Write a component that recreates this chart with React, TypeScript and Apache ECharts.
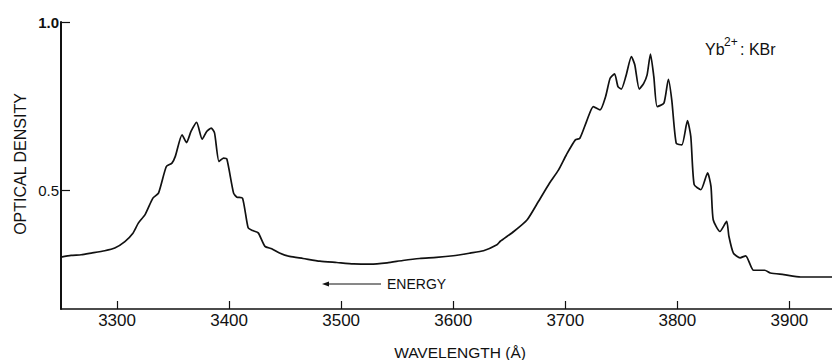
import React, { useEffect, useRef } from "react";
import * as echarts from "echarts";

const wavelengths = [3250, 3259, 3268, 3277, 3289, 3298, 3307, 3314, 3319, 3325, 3332, 3337, 3344, 3349, 3352, 3358, 3362, 3366, 3371, 3376, 3380, 3384, 3387, 3391, 3395, 3398, 3404, 3407, 3412, 3417, 3421, 3426, 3432, 3438, 3445, 3454, 3466, 3481, 3496, 3511, 3526, 3541, 3555, 3570, 3585, 3600, 3615, 3627, 3639, 3642, 3654, 3666, 3676, 3686, 3694, 3701, 3709, 3713, 3719, 3725, 3731, 3736, 3740, 3744, 3747, 3750, 3754, 3759, 3762, 3766, 3770, 3773, 3776, 3779, 3782, 3788, 3792, 3795, 3799, 3804, 3809, 3812, 3815, 3821, 3827, 3830, 3832, 3838, 3844, 3846, 3850, 3856, 3861, 3868, 3878, 3883, 3895, 3910, 3925, 3938];

const density = [0.302, 0.307, 0.309, 0.314, 0.321, 0.329, 0.348, 0.372, 0.403, 0.428, 0.477, 0.492, 0.571, 0.581, 0.601, 0.665, 0.642, 0.675, 0.702, 0.652, 0.675, 0.685, 0.671, 0.586, 0.596, 0.593, 0.492, 0.480, 0.477, 0.389, 0.381, 0.374, 0.334, 0.327, 0.314, 0.304, 0.298, 0.290, 0.286, 0.282, 0.281, 0.285, 0.292, 0.298, 0.301, 0.306, 0.314, 0.321, 0.339, 0.349, 0.378, 0.413, 0.467, 0.522, 0.561, 0.606, 0.650, 0.655, 0.705, 0.749, 0.739, 0.779, 0.833, 0.846, 0.808, 0.801, 0.838, 0.897, 0.873, 0.801, 0.818, 0.843, 0.905, 0.838, 0.749, 0.759, 0.830, 0.769, 0.640, 0.635, 0.707, 0.660, 0.517, 0.502, 0.552, 0.512, 0.413, 0.378, 0.408, 0.364, 0.314, 0.300, 0.306, 0.263, 0.263, 0.255, 0.250, 0.243, 0.243, 0.243];

const xTicks = [3300, 3400, 3500, 3600, 3700, 3800, 3900];
const yTicks = [0.5, 1.0];

const FONT = "'Liberation Sans', Arial, sans-serif";

export default function App() {
  const ref = useRef<HTMLDivElement>(null);
  useEffect(() => {
    if (!ref.current) return;
    const chart = echarts.init(ref.current, null, { renderer: "svg" });
    const data = wavelengths.map((w, i) => [w, density[i]]);
    chart.setOption({
      animation: false,
      backgroundColor: "#ffffff",
      grid: { left: 61, right: 0, top: 22, bottom: 51 },
      xAxis: {
        type: "value",
        min: 3250,
        max: 3938,
        splitLine: { show: false },
        axisLine: { show: true, lineStyle: { color: "#111", width: 1.6 } },
        axisTick: {
          show: true,
          inside: true,
          length: 8,
          customValues: xTicks,
          lineStyle: { color: "#111", width: 1.2 },
        },
        axisLabel: {
          customValues: xTicks,
          color: "#111",
          fontFamily: FONT,
          fontSize: 17,
          margin: 3,
          formatter: (v: number) => String(v),
        },
      },
      yAxis: {
        type: "value",
        min: 0.148,
        max: 1.0,
        splitLine: { show: false },
        axisLine: { show: true, lineStyle: { color: "#111", width: 2 } },
        axisTick: {
          show: true,
          inside: true,
          length: 9,
          customValues: yTicks,
          lineStyle: { color: "#111", width: 1.2 },
        },
        axisLabel: {
          customValues: yTicks,
          color: "#111",
          fontFamily: FONT,
          fontSize: 15,
          margin: 2,
          formatter: (v: number) => (v >= 0.99 ? "{b|1.0}" : v.toFixed(1)),
          rich: {
            b: { fontFamily: FONT, fontSize: 15, fontWeight: "bold", color: "#111" },
          },
        },
      },
      series: [
        {
          type: "line",
          data,
          showSymbol: false,
          smooth: 0.2,
          lineStyle: { color: "#111", width: 1.7 },
        },
      ],
      graphic: [
        {
          type: "text",
          x: 20,
          y: 164,
          rotation: Math.PI / 2,
          style: {
            text: "OPTICAL DENSITY",
            fontFamily: FONT,
            fontSize: 16,
            fill: "#111",
            align: "center",
            verticalAlign: "middle",
          },
        },
        {
          type: "text",
          x: 460,
          y: 352,
          style: {
            text: "WAVELENGTH (Å)",
            fontFamily: FONT,
            fontSize: 15.5,
            fill: "#111",
            align: "center",
            verticalAlign: "middle",
          },
        },
        {
          type: "text",
          x: 705,
          y: 49,
          style: {
            text: "Yb",
            fontFamily: FONT,
            fontSize: 16,
            fill: "#111",
            align: "left",
            verticalAlign: "middle",
          },
        },
        {
          type: "text",
          x: 724,
          y: 42,
          style: {
            text: "2+",
            fontFamily: FONT,
            fontSize: 12,
            fill: "#111",
            align: "left",
            verticalAlign: "middle",
          },
        },
        {
          type: "text",
          x: 740,
          y: 49,
          style: {
            text: ": KBr",
            fontFamily: FONT,
            fontSize: 16,
            fill: "#111",
            align: "left",
            verticalAlign: "middle",
          },
        },
        {
          type: "text",
          x: 387,
          y: 284,
          style: {
            text: "ENERGY",
            fontFamily: FONT,
            fontSize: 14,
            fill: "#111",
            align: "left",
            verticalAlign: "middle",
          },
        },
        {
          type: "line",
          shape: { x1: 326, y1: 284, x2: 381, y2: 284 },
          style: { stroke: "#111", lineWidth: 1 },
        },
        {
          type: "polygon",
          shape: { points: [[322, 284], [329, 281.5], [329, 286.5]] },
          style: { fill: "#111" },
        },
      ],
    });
    return () => chart.dispose();
  }, []);
  return (
    <div
      ref={ref}
      style={{ position: "absolute", left: 0, top: 0, width: 832, height: 360 }}
    />
  );
}
